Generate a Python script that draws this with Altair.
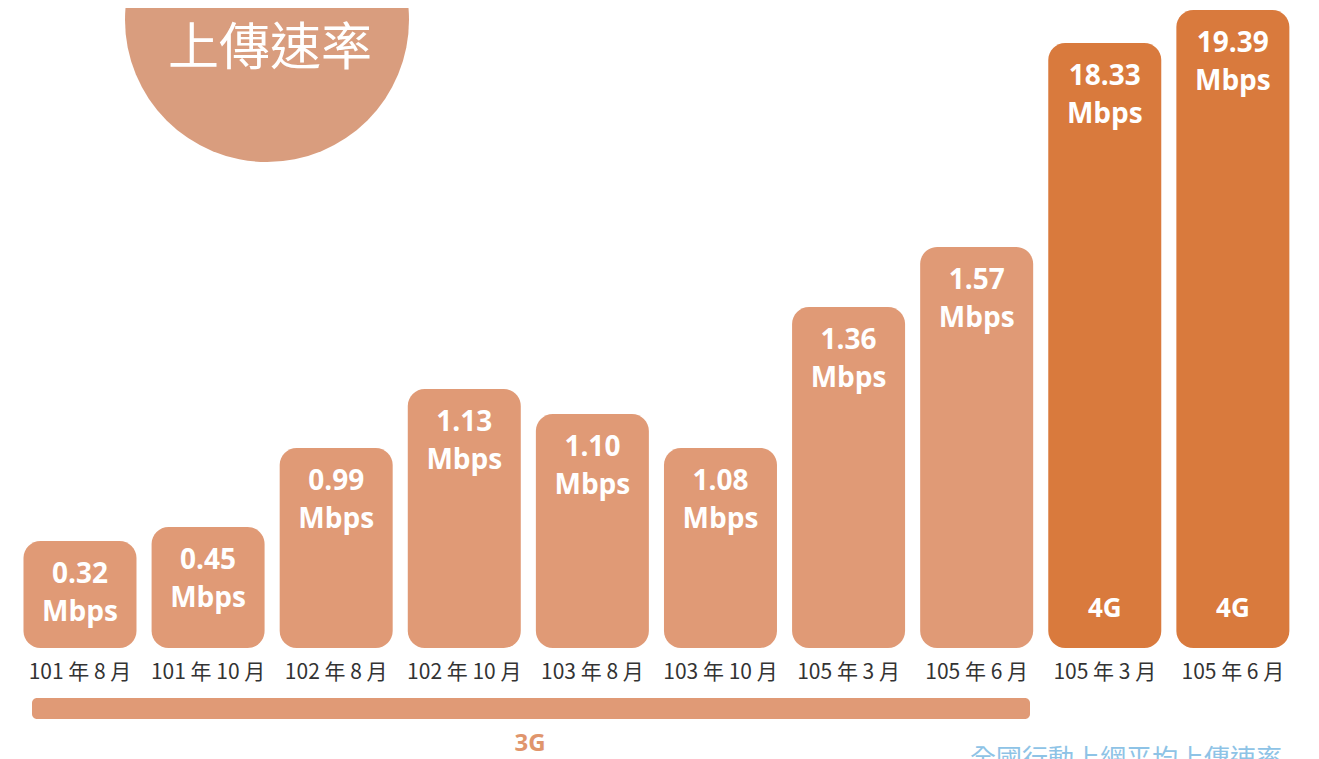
import altair as alt
import pandas as pd

periods = ["101 年 8 月", "101 年 10 月", "102 年 8 月", "102 年 10 月", "103 年 8 月",
           "103 年 10 月", "105 年 3 月", "105 年 6 月", "105 年 3 月", "105 年 6 月"]
speeds = ["0.32", "0.45", "0.99", "1.13", "1.10", "1.08", "1.36", "1.57", "18.33", "19.39"]
# drawn bar heights as they appear in the infographic (not proportional to speed)
bar_heights = [107, 121, 200, 259, 234, 200, 341, 401, 605, 638]
networks = ["3G", "3G", "3G", "3G", "3G", "3G", "3G", "3G", "4G", "4G"]

df = pd.DataFrame({
    "idx": list(range(len(periods))),
    "period": periods,
    "label": [s + "\nMbps" for s in speeds],
    "h": bar_heights,
    "net": networks,
})

W, H = 1303, 751
xs = alt.Scale(domain=[-0.562, 9.610], range=[0, W], nice=False, zero=False, padding=0)
ys = alt.Scale(domain=[-111, 640], range=[H, 0], nice=False, zero=False, padding=0)
col = alt.Scale(domain=["3G", "4G"], range=["#e09a76", "#d97a3d"])

base = alt.Chart(df)
X = alt.X("idx:Q", scale=xs, axis=None)

bars = base.mark_bar(size=113, cornerRadius=17).encode(
    x=X,
    y=alt.Y("h:Q", scale=ys, axis=None),
    y2=alt.datum(0),
    color=alt.Color("net:N", scale=col, legend=None),
)

vals = base.mark_text(font="Open Sans", fontWeight="bold", fontSize=28, color="white",
                      baseline="middle", lineHeight=38, dy=34, lineBreak="\n").encode(
    x=X, y=alt.Y("h:Q", scale=ys, axis=None), text="label:N")

g4 = base.transform_filter(alt.datum.net == "4G").mark_text(
    font="Open Sans", fontWeight="bold", fontSize=26, color="white", baseline="middle").encode(
    x=X, y=alt.value(601), text="net:N")

xlab = base.mark_text(font="Noto Sans CJK TC", fontSize=21, color="#333333",
                      baseline="middle").encode(x=X, y=alt.value(665), text="period:N")

band = alt.Chart(pd.DataFrame({"t": ["3G"]}))
gbar = band.mark_rect(color="#e09a76", cornerRadius=5).encode(
    x=alt.value(24), x2=alt.value(1022), y=alt.value(690), y2=alt.value(711))
gtxt = band.mark_text(font="Open Sans", fontWeight="bold", fontSize=24, color="#e0956c",
                      baseline="middle").encode(x=alt.value(522), y=alt.value(736), text="t:N")

circle = band.mark_point(shape="circle", filled=True, opacity=1, color="#d99d7e",
                         size=284 * 284).encode(x=alt.value(259), y=alt.value(12))
ctitle = pd.DataFrame({"t": ["平均", "上傳速率"], "yy": [-28, 42]})
ctext = alt.Chart(ctitle).mark_text(font="Noto Sans CJK TC", fontSize=51, color="white",
                                    baseline="middle").encode(
    x=alt.value(262),
    y=alt.Y("yy:Q", scale=alt.Scale(domain=[0, H], range=[0, H], nice=False, zero=False), axis=None),
    text="t:N")

src = band.transform_calculate(s="'全國行動上網平均上傳速率'").mark_text(
    font="Noto Sans CJK TC", fontSize=26, color="#8ec3e6", baseline="middle").encode(
    x=alt.value(1118), y=alt.value(752), text="s:N")

chart = alt.layer(circle, ctext, bars, vals, g4, xlab, gbar, gtxt, src).resolve_scale(
    y="independent"
).properties(
    width=W, height=H, autosize=alt.AutoSizeParams(type="none"), padding=0
).configure_view(stroke=None)

chart.save("out.html", embed_options={"renderer": "svg", "actions": False})
